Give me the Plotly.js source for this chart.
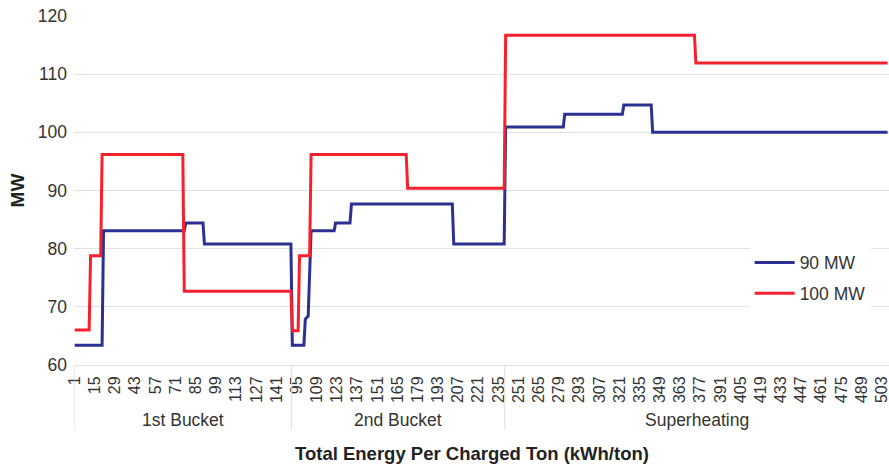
<!DOCTYPE html>
<html>
<head>
<meta charset="utf-8">
<script src="https://cdn.plot.ly/plotly-3.0.1.min.js"></script>
<style>
  html, body { margin: 0; padding: 0; background: #fff; }
  #chart { width: 889px; height: 468px; }
</style>
</head>
<body>
<div id="chart"></div>
<script>
// ---- Category groups (x axis) ----
const groupNames    = ['1st Bucket', '2nd Bucket', 'Superheating'];
const groupFirstKwh = [1, 92, 242];
const groupLastKwh  = [151, 239, 507];

// ---- Tick labels shown on the axis (every 14th category) ----
const ticks1st = [1, 15, 29, 43, 57, 71, 85, 99, 113, 127, 141];
const ticks2nd = [95, 109, 123, 137, 151, 165, 179, 193, 207, 221, 235];
const ticksSup = [251, 265, 279, 293, 307, 321, 335, 349, 363, 377, 391, 405, 419, 433, 447, 461, 475, 489, 503];

// ---- Series: 90 MW (step breakpoints: group index, kWh/ton, MW) ----
const mw90Group = [0, 0, 0, 0, 0, 0, 0, 0,
                   1, 1, 1, 1, 1, 1, 1, 1, 1, 1, 1, 1, 1,
                   2, 2, 2, 2, 2, 2, 2, 2];
const mw90Kwh   = [1, 20, 21, 77, 78, 90, 91, 151,
                   92, 100, 101, 103, 105, 121, 122, 132, 133, 203, 204, 239, 239,
                   242, 282, 283, 323, 324, 343, 344, 507];
const mw90MW    = [63.4, 63.4, 83.1, 83.1, 84.4, 84.4, 80.8, 80.8,
                   63.4, 63.4, 67.9, 68.4, 83.1, 83.1, 84.4, 84.4, 87.7, 87.7, 80.8, 80.8, 80.8,
                   100.9, 100.9, 103.1, 103.1, 104.7, 104.7, 100.0, 100.0];

// ---- Series: 100 MW ----
const mw100Group = [0, 0, 0, 0, 0, 0, 0, 0,
                    1, 1, 1, 1, 1, 1, 1, 1,
                    2, 2, 2, 2];
const mw100Kwh   = [1, 11, 12, 19, 20, 76, 77, 151,
                    92, 96, 97, 104, 105, 171, 172, 239,
                    242, 373, 374, 507];
const mw100MW    = [66.0, 66.0, 78.8, 78.8, 96.2, 96.2, 72.7, 72.7,
                    65.9, 65.9, 78.8, 78.8, 96.2, 96.2, 90.4, 90.4,
                    116.7, 116.7, 111.9, 111.9];

// ---- category position helpers ----
const groupOffset = [];
let acc = 0;
for (let g = 0; g < groupNames.length; g++) {
  groupOffset.push(acc);
  acc += groupLastKwh[g] - groupFirstKwh[g] + 1;
}
const pos = (g, kwh) => groupOffset[g] + (kwh - groupFirstKwh[g]);

const tickGroups = [ticks1st, ticks2nd, ticksSup];
const tickvals = [], ticktext = [];
tickGroups.forEach((arr, g) => arr.forEach(v => { tickvals.push(pos(g, v)); ticktext.push(String(v)); }));

const FONT = 'Liberation Sans, Arial, Helvetica, sans-serif';
const GRID = '#e3e3e3';

const trace90 = {
  x: mw90Kwh.map((k, i) => pos(mw90Group[i], k)),
  y: mw90MW,
  type: 'scatter', mode: 'lines', name: '90 MW', legendgroup: 'a',
  line: { color: '#2B3092', width: 3 },
  hoverinfo: 'skip'
};
const trace100 = {
  x: mw100Kwh.map((k, i) => pos(mw100Group[i], k)),
  y: mw100MW,
  type: 'scatter', mode: 'lines', name: '100 MW', legendgroup: 'b',
  line: { color: '#F7202C', width: 3 },
  hoverinfo: 'skip'
};

// group dividers & labels
const shapes = [];
const annotations = [];
for (let g = 0; g < groupNames.length; g++) {
  const start = groupOffset[g] - 0.5;
  const end = groupOffset[g] + (groupLastKwh[g] - groupFirstKwh[g]) + 0.5;
  shapes.push({ type: 'line', xref: 'x', yref: 'paper', x0: start, x1: start, y0: 0, y1: -0.186,
                line: { color: '#dcdcdc', width: 1 } });
  annotations.push({ text: groupNames[g], xref: 'x', yref: 'paper', x: (start + end) / 2, y: -0.157,
                     showarrow: false, xanchor: 'center', yanchor: 'middle',
                     font: { family: FONT, size: 17.5, color: '#333' } });
}
annotations.push({ text: '<b>Total Energy Per Charged Ton (kWh/ton)</b>', xref: 'paper', yref: 'paper',
                   x: 0.488, y: -0.255, showarrow: false, xanchor: 'center', yanchor: 'middle',
                   font: { family: FONT, size: 18.5, color: '#222' } });

const layout = {
  width: 889, height: 468,
  margin: { l: 74, r: 0, t: 16, b: 103 },
  paper_bgcolor: '#fff', plot_bgcolor: '#fff',
  showlegend: true,
  legend: { x: 0.829, y: 0.249, xanchor: 'left', yanchor: 'middle', bgcolor: '#fff',
            font: { family: FONT, size: 17.5, color: '#333' }, tracegroupgap: 5, itemwidth: 40 },
  xaxis: {
    range: [-0.5, 565], showgrid: false, zeroline: false,
    showline: true, linecolor: GRID, linewidth: 1,
    tickmode: 'array', tickvals: tickvals, ticktext: ticktext, tickangle: -90,
    ticks: '', tickfont: { family: FONT, size: 16, color: '#333' }, ticklabelstandoff: 4,
    ticklabeloverflow: 'allow'
  },
  yaxis: {
    range: [60, 120], dtick: 10, tick0: 60, showgrid: true, gridcolor: GRID, gridwidth: 1,
    zeroline: false, showline: false, ticks: '',
    tickfont: { family: FONT, size: 17.5, color: '#333' }, ticklabelstandoff: 6,
    title: { text: '<b>MW</b>', font: { family: FONT, size: 19, color: '#222' }, standoff: 8 }
  },
  shapes: shapes,
  annotations: annotations
};

Plotly.newPlot('chart', [trace90, trace100], layout, { displayModeBar: false, staticPlot: true });
</script>
</body>
</html>
